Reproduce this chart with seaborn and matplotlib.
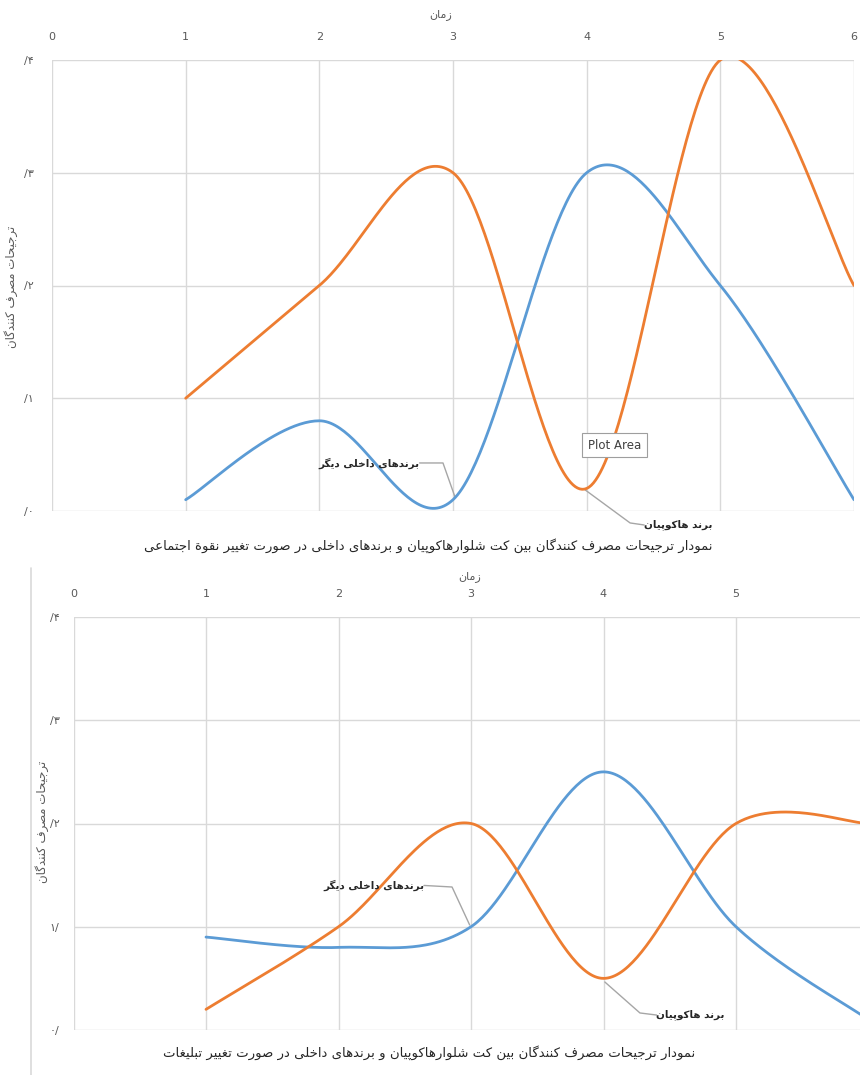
import numpy as np
import pandas as pd
import seaborn as sns
import matplotlib.pyplot as plt
from matplotlib.lines import Line2D

sns.set_theme(style="white")
plt.rcParams['font.family'] = ['DejaVu Sans']

# ---- data ---------------------------------------------------------------
time = [1, 2, 3, 4, 5, 6]
x_ticks = [0, 1, 2, 3, 4, 5, 6]

# panel 1: change of social class
social_hakopian = [0.10, 0.20, 0.30, 0.02, 0.40, 0.20]
social_domestic = [0.01, 0.08, 0.01, 0.30, 0.20, 0.01]

# panel 2: change of advertising
ads_hakopian = [0.02, 0.10, 0.20, 0.05, 0.20, 0.20]
ads_domestic = [0.09, 0.08, 0.10, 0.25, 0.10, 0.01]

y_ticks = [0.0, 0.1, 0.2, 0.3, 0.4]
y_labels_top = ["/۰", "/۱", "/۲", "/۳", "/۴"]
y_labels_bottom = ["۰/", "۱/", "/۲", "/۳", "/۴"]

x_title = "زمان"
y_title = "ترجیحات مصرف کنندگان"
label_hakopian = "برند هاکوپیان"
label_domestic = "برندهای داخلی دیگر"
caption_top = "نمودار ترجیحات مصرف کنندگان بین کت شلوارهاکوپیان و برندهای داخلی در صورت تغییر نقوة اجتماعی"
caption_bottom = "نمودار ترجیحات مصرف کنندگان بین کت شلوارهاکوپیان و برندهای داخلی در صورت تغییر تبلیغات"

BLUE = "#5B9BD5"
ORANGE = "#ED7D31"
GRID = "#D9D9D9"
TICK = "#595959"
LEADER = "#A6A6A6"
DARK = "#262626"

# ---- minimal Persian shaping (presentation forms + visual order) -------
FORMS = {
    'ا': (0xFE8D, 0xFE8E, None, None), 'آ': (0xFE81, 0xFE82, None, None),
    'ب': (0xFE8F, 0xFE90, 0xFE91, 0xFE92), 'پ': (0xFB56, 0xFB57, 0xFB58, 0xFB59),
    'ت': (0xFE95, 0xFE96, 0xFE97, 0xFE98), 'ث': (0xFE99, 0xFE9A, 0xFE9B, 0xFE9C),
    'ج': (0xFE9D, 0xFE9E, 0xFE9F, 0xFEA0), 'چ': (0xFB7A, 0xFB7B, 0xFB7C, 0xFB7D),
    'ح': (0xFEA1, 0xFEA2, 0xFEA3, 0xFEA4), 'خ': (0xFEA5, 0xFEA6, 0xFEA7, 0xFEA8),
    'د': (0xFEA9, 0xFEAA, None, None), 'ذ': (0xFEAB, 0xFEAC, None, None),
    'ر': (0xFEAD, 0xFEAE, None, None), 'ز': (0xFEAF, 0xFEB0, None, None),
    'ژ': (0xFB8A, 0xFB8B, None, None),
    'س': (0xFEB1, 0xFEB2, 0xFEB3, 0xFEB4), 'ش': (0xFEB5, 0xFEB6, 0xFEB7, 0xFEB8),
    'ص': (0xFEB9, 0xFEBA, 0xFEBB, 0xFEBC), 'ض': (0xFEBD, 0xFEBE, 0xFEBF, 0xFEC0),
    'ط': (0xFEC1, 0xFEC2, 0xFEC3, 0xFEC4), 'ظ': (0xFEC5, 0xFEC6, 0xFEC7, 0xFEC8),
    'ع': (0xFEC9, 0xFECA, 0xFECB, 0xFECC), 'غ': (0xFECD, 0xFECE, 0xFECF, 0xFED0),
    'ف': (0xFED1, 0xFED2, 0xFED3, 0xFED4), 'ق': (0xFED5, 0xFED6, 0xFED7, 0xFED8),
    'ک': (0xFB8E, 0xFB8F, 0xFB90, 0xFB91), 'گ': (0xFB92, 0xFB93, 0xFB94, 0xFB95),
    'ل': (0xFEDD, 0xFEDE, 0xFEDF, 0xFEE0), 'م': (0xFEE1, 0xFEE2, 0xFEE3, 0xFEE4),
    'ن': (0xFEE5, 0xFEE6, 0xFEE7, 0xFEE8), 'و': (0xFEED, 0xFEEE, None, None),
    'ه': (0xFEE9, 0xFEEA, 0xFEEB, 0xFEEC), 'ی': (0xFBFC, 0xFBFD, 0xFBFE, 0xFBFF),
    'ة': (0xFE93, 0xFE94, None, None),
}


def fa(text):
    chars = list(text)
    out = []
    for i, c in enumerate(chars):
        if c not in FORMS:
            out.append(c)
            continue
        iso, fin, ini, med = FORMS[c]
        prev = chars[i - 1] if i > 0 else None
        nxt = chars[i + 1] if i + 1 < len(chars) else None
        join_prev = prev in FORMS and FORMS[prev][2] is not None
        join_next = ini is not None and nxt in FORMS
        if join_prev and join_next:
            code = med
        elif join_prev:
            code = fin
        elif join_next:
            code = ini
        else:
            code = iso
        out.append(chr(code))
    return "".join(reversed(out))


# ---- smoothed line (Catmull-Rom style Bezier through each point) -------
def smooth(xs, ys, n=60):
    p = np.column_stack([xs, ys]).astype(float)
    ext = np.vstack([p[0], p, p[-1]])
    segs = []
    for i in range(len(p) - 1):
        p0, p1, p2, p3 = ext[i], ext[i + 1], ext[i + 2], ext[i + 3]
        c1 = p1 + (p2 - p0) / 6.0
        c2 = p2 - (p3 - p1) / 6.0
        t = np.linspace(0, 1, n)[:, None]
        b = ((1 - t) ** 3) * p1 + 3 * ((1 - t) ** 2) * t * c1 + 3 * (1 - t) * t ** 2 * c2 + t ** 3 * p2
        segs.append(b if i == 0 else b[1:])
    s = np.vstack(segs)
    return pd.DataFrame({"x": s[:, 0], "y": s[:, 1]})


def style_axes(ax, xmax, ylabels):
    ax.set_xlim(0, xmax)
    ax.set_ylim(0, 0.4)
    ax.xaxis.tick_top()
    ax.set_xticks([t for t in x_ticks if t <= xmax])
    ax.set_xticklabels([str(t) for t in x_ticks if t <= xmax])
    ax.set_yticks(y_ticks)
    ax.set_yticklabels(ylabels)
    ax.grid(True, color=GRID, lw=1)
    for s in ax.spines.values():
        s.set_visible(False)
    ax.tick_params(length=0, labelsize=8, colors=TICK, pad=13)
    ax.set_xlabel("")
    ax.set_ylabel("")


def callout(ax, text, path, ha):
    """Series name with a thin leader line running to the curve."""
    xs, ys = zip(*path)
    ax.plot(xs, ys, color=LEADER, lw=1, clip_on=False, zorder=1)
    ax.text(xs[-1], ys[-1], fa(text), ha=ha, va="center", fontsize=7.5,
            fontweight="bold", color=DARK, clip_on=False)


fig = plt.figure(figsize=(8.61, 10.75), dpi=100)

# ---- panel 1 ------------------------------------------------------------
ax1 = fig.add_axes([52 / 861, 1 - 511 / 1075, (854 - 52) / 861, (511 - 60) / 1075])
sns.lineplot(data=smooth(time, social_domestic), x="x", y="y", sort=False,
             estimator=None, color=BLUE, lw=2, ax=ax1)
sns.lineplot(data=smooth(time, social_hakopian), x="x", y="y", sort=False,
             estimator=None, color=ORANGE, lw=2, ax=ax1)
style_axes(ax1, 6, y_labels_top)

callout(ax1, label_domestic,
        [(3.015, 0.0124), (2.925, 0.0426), (2.75, 0.0426)], ha="right")
callout(ax1, label_hakopian,
        [(3.99, 0.0186), (4.325, -0.0106), (4.43, -0.0124)], ha="left")
ax1.text(4.21, 0.0585, "Plot Area", ha="center", va="center", fontsize=8.5,
         color="#404040",
         bbox=dict(boxstyle="square,pad=0.5", fc="white", ec="#9E9E9E", lw=0.8))

fig.text(441 / 861, 1 - 15 / 1075, fa(x_title), ha="center", va="center",
         fontsize=8, color=TICK)
fig.text(11 / 861, 1 - 287 / 1075, fa(y_title), ha="center", va="center",
         rotation=90, fontsize=8.5, color=TICK)
fig.text(428 / 861, 1 - 546 / 1075, fa(caption_top), ha="center", va="center",
         fontsize=9.5, color=DARK)

# ---- panel 2 ------------------------------------------------------------
unit = 132.5
left2 = 73.5
right2 = 860
ax2 = fig.add_axes([left2 / 861, 1 - 1030 / 1075, (right2 - left2) / 861, (1030 - 617) / 1075])
sns.lineplot(data=smooth(time, ads_domestic), x="x", y="y", sort=False,
             estimator=None, color=BLUE, lw=2, ax=ax2)
sns.lineplot(data=smooth(time, ads_hakopian), x="x", y="y", sort=False,
             estimator=None, color=ORANGE, lw=2, ax=ax2)
style_axes(ax2, (right2 - left2) / unit, y_labels_bottom)
ax2.tick_params(axis="y", pad=10)

callout(ax2, label_domestic,
        [(2.99, 0.1017), (2.857, 0.1385), (2.645, 0.140)], ha="right")
callout(ax2, label_hakopian,
        [(4.01, 0.0465), (4.275, 0.0165), (4.40, 0.0145)], ha="left")

fig.text(470 / 861, 1 - 577 / 1075, fa(x_title), ha="center", va="center",
         fontsize=8, color=TICK)
fig.text(42 / 861, 1 - 822 / 1075, fa(y_title), ha="center", va="center",
         rotation=90, fontsize=8.5, color=TICK)
fig.text(429 / 861, 1 - 1053 / 1075, fa(caption_bottom), ha="center", va="center",
         fontsize=9.5, color=DARK)

# frame edge of the second chart
fig.add_artist(Line2D([31 / 861, 31 / 861], [0, 1 - 568 / 1075],
                      transform=fig.transFigure, color=GRID, lw=1.2))

fig.savefig("out.png", dpi=100, facecolor="white")
